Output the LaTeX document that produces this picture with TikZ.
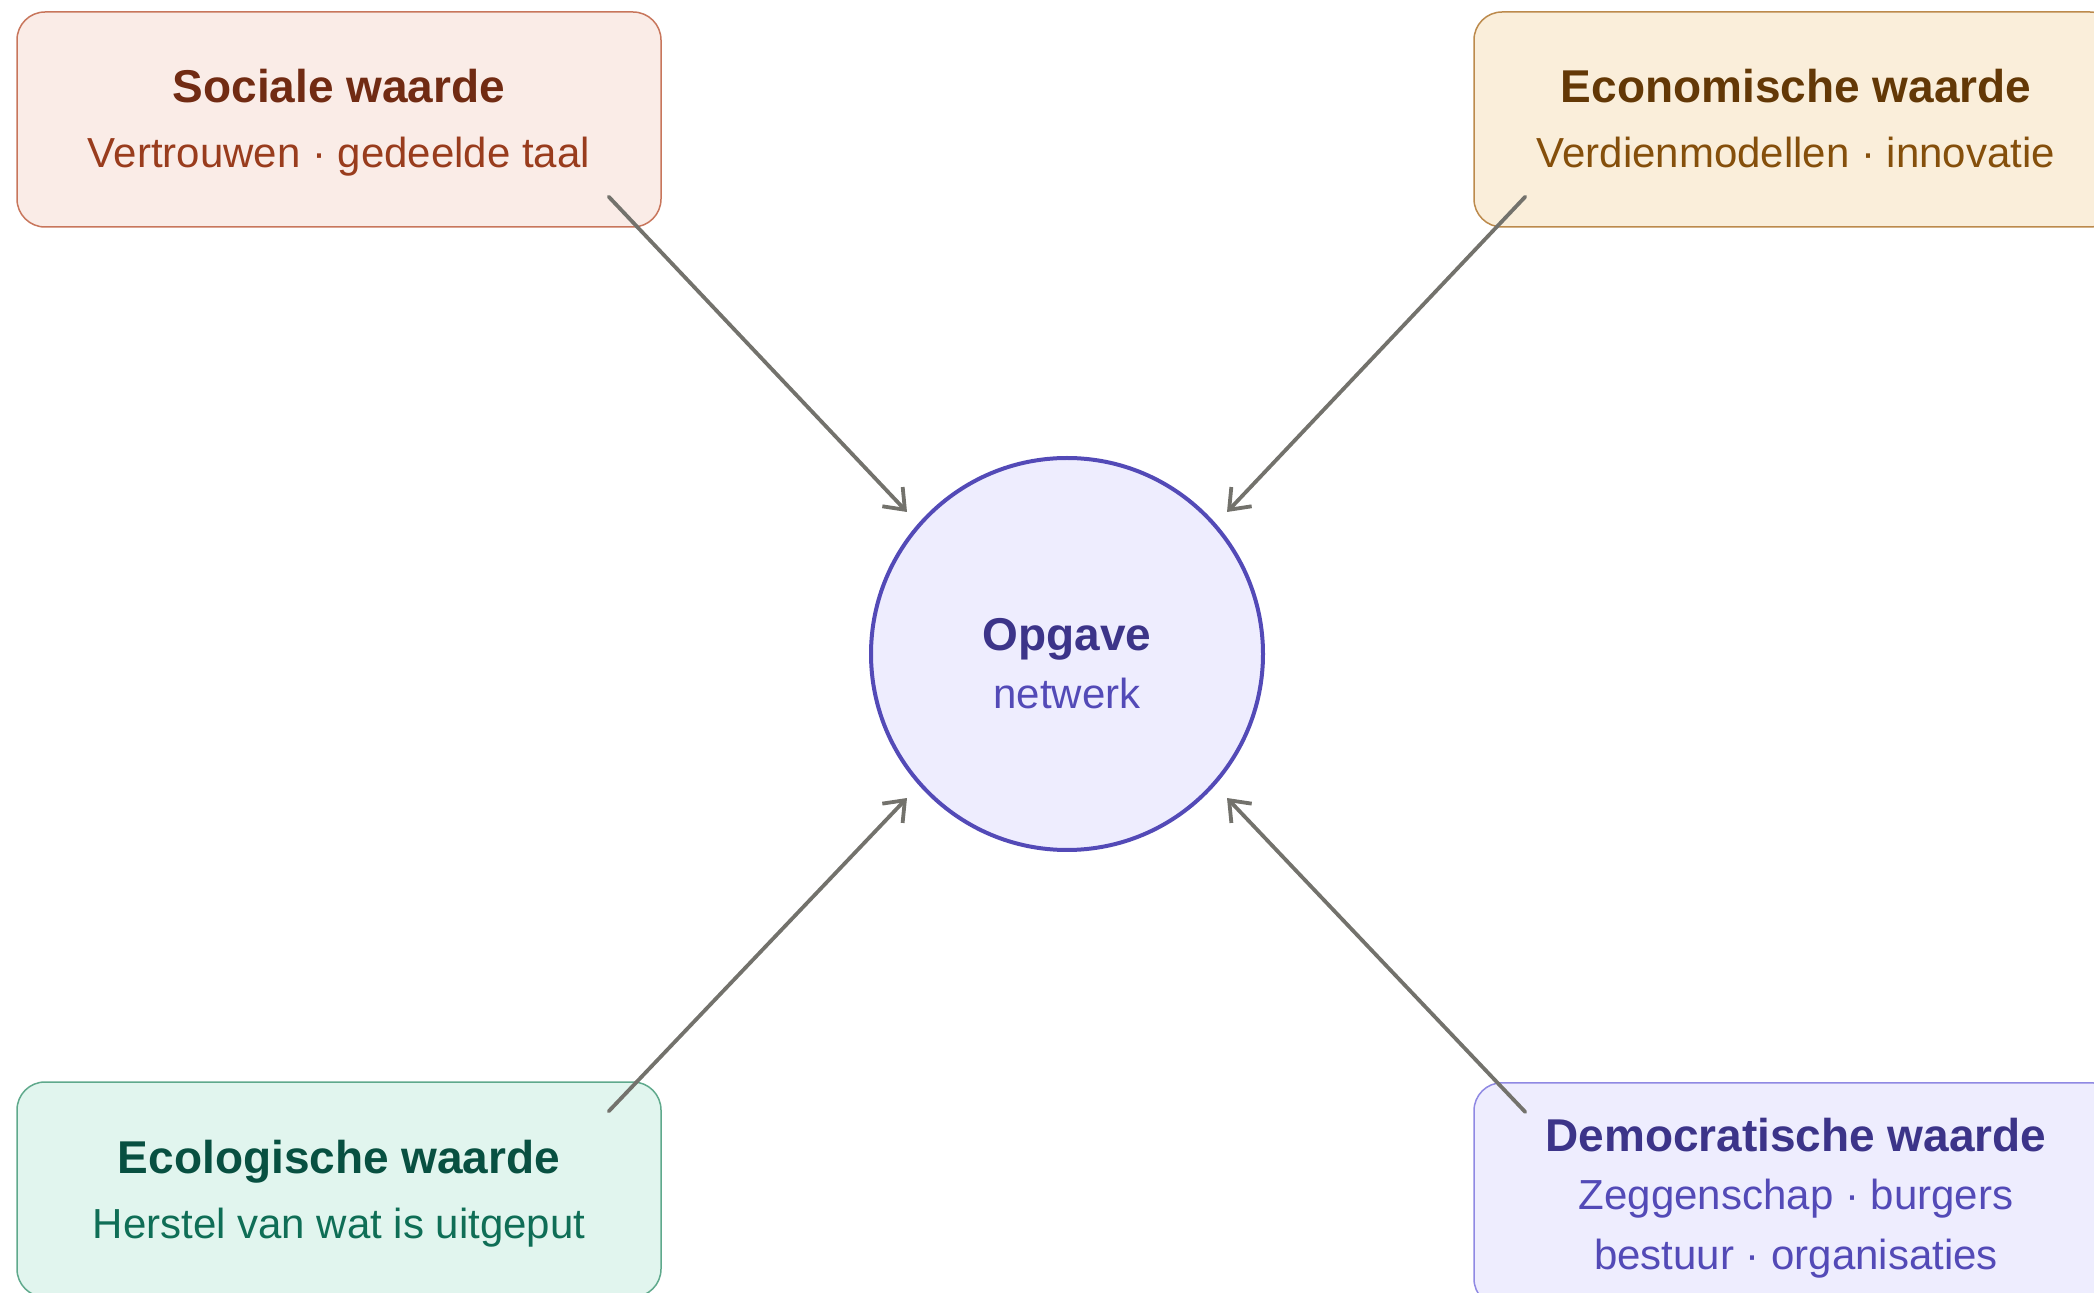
\documentclass[tikz,border=0pt]{standalone}
\usepackage{fontspec}
\setmainfont{Liberation Sans}
\usetikzlibrary{arrows.meta,positioning,shapes}

\definecolor{socFill}{HTML}{FAECE7}
\definecolor{socLine}{HTML}{C8765C}
\definecolor{socTitle}{HTML}{712B13}
\definecolor{socSub}{HTML}{993C1D}
\definecolor{ecoFill}{HTML}{FAEEDA}
\definecolor{ecoLine}{HTML}{BC8A4C}
\definecolor{ecoTitle}{HTML}{633806}
\definecolor{ecoSub}{HTML}{854F0B}
\definecolor{ecolFill}{HTML}{E1F5EE}
\definecolor{ecolLine}{HTML}{5FA98C}
\definecolor{ecolTitle}{HTML}{085041}
\definecolor{ecolSub}{HTML}{0F6E56}
\definecolor{demFill}{HTML}{EEEDFE}
\definecolor{demLine}{HTML}{8F89E3}
\definecolor{demTitle}{HTML}{3C3489}
\definecolor{demSub}{HTML}{534AB7}
\definecolor{opgLine}{HTML}{534AB7}
\definecolor{arrowGray}{HTML}{73726C}

% title line and last line with fixed height/depth
\newcommand{\kop}[3][21pt]{{\color{#2}\bfseries\fontsize{23}{25}\selectfont\rule{0pt}{#1}#3}}
\newcommand{\staart}{\rule[-5pt]{0pt}{0pt}}

\begin{document}
\begin{tikzpicture}[x=0.5pt,y=-0.5pt,>={Straight Barb[length=9pt,width=14pt]},
semithick]
\tikzstyle{waarde}=[rectangle, rounded corners=14pt,
minimum width=322pt, minimum height=107.5pt, align=center,
line width=0.75pt, font=\fontsize{21}{25}\selectfont]
\tikzstyle{flow}=[->, draw=arrowGray, line width=1.9pt, line cap=round]

\useasboundingbox (0,0) rectangle (2094,1293);

% value boxes
\node[waarde, fill=socFill, draw=socLine, text=socSub]
(Soc) at (339,119.5) {\kop{socTitle}{Sociale waarde}\\[7.5pt]
Vertrouwen · gedeelde taal\staart};

\node[waarde, fill=ecoFill, draw=ecoLine, text=ecoSub]
(Eco) at (1796,119.5) {\kop{ecoTitle}{Economische waarde}\\[7.5pt]
Verdienmodellen · innovatie\staart};

\node[waarde, fill=ecolFill, draw=ecolLine, text=ecolSub]
(Ecol) at (339,1189.5) {\kop{ecolTitle}{Ecologische waarde}\\[7.5pt]
Herstel van wat is uitgeput\staart};

\node[waarde, fill=demFill, draw=demLine, text=demSub, anchor=north, minimum height=112pt]
(Dem) at (1796,1082) {\kop{demTitle}{Democratische waarde}\\[4pt]
Zeggenschap · burgers\\[5pt]
bestuur · organisaties\staart};

% centre
\node[circle, fill=demFill, draw=opgLine, line width=2pt, minimum size=196pt,
align=center, text=demSub, font=\fontsize{21}{25}\selectfont]
(Opg) at (1067,654) {\kop[31pt]{demTitle}{Opgave}\\[4pt]
netwerk\staart};

%inflows
\draw[flow] ([shift={(-53,-31)}]Soc.south east) -- ([shift={(-160,-142)}]Opg.center);
\draw[flow] ([shift={(52,-31)}]Eco.south west) -- ([shift={(160,-142)}]Opg.center);
\draw[flow] ([shift={(-53,30)}]Ecol.north east) -- ([shift={(-160,144)}]Opg.center);
\draw[flow] ([shift={(52,30)}]Dem.north west) -- ([shift={(160,144)}]Opg.center);

\end{tikzpicture}
\end{document}
